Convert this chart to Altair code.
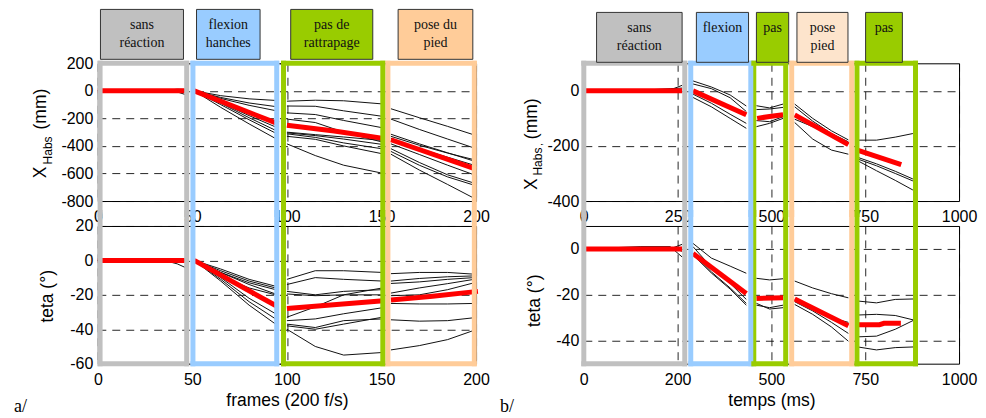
import altair as alt
import pandas as pd

# ---------------- panel a/ : X_Habs (mm) vs frames ----------------
AX_P1_X = [0, 20, 35, 42, 47]
AX_P1_TRIALS = [[0, 0, 2, 12, 10], [0, 0, 0, -8, -30], [0, 1, 3, 2, 0]]
AX_P1_MEAN_X = [0, 46]
AX_P1_MEAN = [0, 0]

AX_P2_X = [51, 65, 80, 94.5]
AX_P2_TRIALS = [
    [0, -35, -58, -70], [0, -48, -88, -115], [0, -55, -105, -145],
    [0, -75, -165, -245], [0, -85, -180, -265], [0, -90, -195, -290],
    [0, -100, -210, -310], [0, -120, -240, -350],
]
AX_P2_MEAN_X = [51, 95.5]
AX_P2_MEAN = [0, -240]

AX_P3_X = [100, 115, 130, 150.5]
AX_P3_TRIALS = [
    [-75, -68, -72, -95], [-110, -112, -145, -185], [-160, -172, -215, -268],
    [-205, -230, -300, -372], [-300, -318, -335, -360], [-305, -325, -350, -389],
    [-312, -338, -378, -421], [-330, -352, -400, -457], [-385, -470, -540, -598],
]
AX_P3_MEAN_X = [100, 125, 151]
AX_P3_MEAN = [-250, -292, -345]

AX_P4_X = [155, 170, 185, 199]
AX_P4_TRIALS = [
    [-130, -195, -258, -320], [-205, -280, -350, -415], [-315, -385, -450, -510],
    [-330, -395, -452, -500], [-345, -420, -482, -540], [-385, -462, -540, -610],
    [-420, -520, -610, -670], [-440, -540, -625, -685], [-460, -575, -680, -780],
]
AX_P4_MEAN_X = [155, 200]
AX_P4_MEAN = [-355, -568]

# ---------------- panel a/ : teta vs frames ----------------
AT_P1_X = [0, 20, 35, 42, 47]
AT_P1_TRIALS = [[0, 0, 0.5, 1, 0.5], [0, 0, 0, -2, -4.5], [0, 0, 0.3, 0, 0]]
AT_P1_MEAN_X = [0, 46]
AT_P1_MEAN = [0, 0]

AT_P2_X = [51, 65, 80, 94]
AT_P2_TRIALS = [
    [0, -5, -11, -15], [0, -6, -12, -16], [0, -7, -13, -17], [0, -7, -14, -19.5],
    [0, -9, -16, -20], [0, -10, -22, -31], [0, -11, -24, -34], [0, -12, -26, -37],
]
AT_P2_MEAN_X = [51, 94.5]
AT_P2_MEAN = [0, -26.5]

AT_P3_X = [100, 115, 130, 150.5]
AT_P3_TRIALS = [
    [-11, -6, -6, -7], [-14, -10, -11, -12], [-18, -20, -18, -17],
    [-19.5, -20.5, -20, -20], [-33, -27, -20, -16], [-35, -34, -31, -27.5],
    [-37, -39, -35, -34], [-38, -40, -37, -33], [-40, -50, -55, -53.5],
]
AT_P3_MEAN_X = [100, 151]
AT_P3_MEAN = [-28, -23.5]

AT_P4_X = [155, 170, 185, 199]
AT_P4_TRIALS = [
    [-7.7, -7, -7, -8], [-12, -10.5, -9.5, -9], [-13.4, -12.5, -11, -10],
    [-19, -16, -13.5, -11], [-20.5, -20, -17, -13], [-25, -25.3, -25.3, -25],
    [-34.5, -35.3, -35, -33.3], [-52, -49.5, -46, -40.6],
]
AT_P4_MEAN_X = [155, 177, 201]
AT_P4_MEAN = [-23, -20.8, -18]

# ---------------- panel b/ : X_Habs (mm) vs temps (ms) ----------------
BX_P1_X = [0, 150, 230, 262]
BX_P1_TRIALS = [[0, 2, 8, 10], [0, 0, 3, 20], [0, 0, 0, -5]]
BX_P1_MEAN_X = [0, 262]
BX_P1_MEAN = [0, 0]

BX_P2_X = [291, 340, 390, 433]
BX_P2_TRIALS = [[36, 14, -15, -55], [25, 8, -25, -75], [-12, -45, -85, -118], [-24, -58, -100, -136]]
BX_P2_MEAN_X = [291, 433]
BX_P2_MEAN = [0, -87]

BX_P3_X = [460, 495, 531]
BX_P3_TRIALS = [[-54, -62, -48], [-68, -66, -60], [-108, -112, -94], [-130, -118, -100]]
BX_P3_MEAN_X = [462, 495, 531]
BX_P3_MEAN = [-100, -93, -87]

BX_P4_X = [562, 610, 660, 705]
BX_P4_TRIALS = [[-48, -100, -145, -178], [-58, -110, -155, -185], [-103, -130, -160, -190], [-115, -175, -215, -230]]
BX_P4_MEAN_X = [562, 705]
BX_P4_MEAN = [-87, -195]

BX_P5_X = [729, 780, 830, 877]
BX_P5_TRIALS = [[-179, -179, -168, -155], [-241, -265, -292, -320], [-247, -272, -300, -327], [-253, -290, -325, -360]]
BX_P5_MEAN_X = [729, 846]
BX_P5_MEAN = [-215, -268]

# ---------------- panel b/ : teta vs temps (ms) ----------------
BT_P1_X = [0, 150, 230, 262]
BT_P1_TRIALS = [[0, 1, 1, -3.5], [0, 0, 0, 2], [0, 0, 0.5, -1]]
BT_P1_MEAN_X = [0, 262]
BT_P1_MEAN = [0, 0]

BT_P2_X = [291, 340, 390, 433]
BT_P2_TRIALS = [[2.4, -4, -7.5, -10.6], [1, -8, -15, -22], [-2, -10, -17, -23.7], [-2.6, -10.5, -17.5, -24.5]]
BT_P2_MEAN_X = [291, 433]
BT_P2_MEAN = [-2, -19.4]

BT_P3_X = [460, 495, 531]
BT_P3_TRIALS = [[-12.8, -13.5, -13], [-24.5, -25.6, -24.5], [-23.7, -26.2, -25.6]]
BT_P3_MEAN_X = [460, 531]
BT_P3_MEAN = [-21.6, -21.3]

BT_P4_X = [562, 610, 660, 705]
BT_P4_TRIALS = [[-14, -17, -19.5, -21.3], [-22, -26, -30, -32], [-23, -27, -32, -36.8], [-24.2, -28.5, -34, -40.2]]
BT_P4_MEAN_X = [562, 705]
BT_P4_MEAN = [-21.8, -33.5]

BT_P5_X = [730, 780, 830, 880]
BT_P5_TRIALS = [[-22.7, -23.5, -22, -21.8], [-28.8, -28.5, -29, -31], [-38.3, -38, -35, -31], [-42.7, -44, -43, -42.7]]
BT_P5_MEAN_X = [730, 788, 800, 845]
BT_P5_MEAN = [-33, -33, -32.4, -32.4]

# ---------------- phases (frames) and labels ----------------
A_PHASE_START = [1.2, 50.3, 98.2, 153.4]
A_PHASE_END = [47, 94.6, 150.7, 199.1]
A_PHASE_COLOR = ["#c0c0c0", "#99ccff", "#99cc00", "#ffcc99"]
A_BOX_START = [1.4, 52.2, 102, 158.8]
A_BOX_END = [45.3, 85.8, 145.4, 198.3]
A_BOX_FILL = ["#c0c0c0", "#99ccff", "#99cc00", "#ffcc99"]
A_BOX_LABEL = ["sans\nréaction", "flexion\nhanches", "pas de\nrattrapage", "pose du\npied"]

B_PHASE_START = [0, 285, 453, 554, 728]
B_PHASE_END = [269, 445, 538, 714, 884]
B_PHASE_COLOR = ["#c0c0c0", "#99ccff", "#99cc00", "#ffcc99", "#99cc00"]
B_BOX_START = [34, 300, 460, 568, 751]
B_BOX_END = [262, 439, 546, 704, 849]
B_BOX_FILL = ["#c0c0c0", "#99ccff", "#99cc00", "#fde4cc", "#99cc00"]
B_BOX_LABEL = ["sans\nréaction", "flexion", "pas", "pose\npied", "pas"]

A_XTICKS = [0, 50, 100, 150, 200]
B_XTICKS = [0, 250, 500, 750, 1000]

SANS = "Liberation Sans"
SERIF = "Liberation Serif"
DASH = [8, 6]


def rows(phases):
    tr, mn = [], []
    for p, (xs, trials, mxs, mys) in enumerate(phases):
        for t, ys in enumerate(trials):
            tr += [{"x": a, "y": b, "seg": f"{p}-{t}"} for a, b in zip(xs, ys)]
        mn += [{"x": a, "y": b, "seg": str(p)} for a, b in zip(mxs, mys)]
    return pd.DataFrame(tr), pd.DataFrame(mn)


def panel(phases, xdom, xticks, ydom, yticks, w, h, part, frames, gap,
          xlabel_expr="'' + datum.value", xtitle=None, boxes=None, box_y=(-54, -4),
          text_y=-44, texts=()):
    tr, mn = rows(phases)
    xsc = alt.Scale(domain=xdom, nice=False, zero=False)
    ysc = alt.Scale(domain=ydom, nice=False, zero=False)
    common = dict(grid=True, gridColor="black", gridDash=DASH, gridWidth=1, gridOpacity=0.85,
                  ticks=False, domain=False, labelFont=SANS, labelFontSize=16, labelColor="black",
                  labelFlush=False, labelOverlap=False)
    xaxis = alt.Axis(values=xticks, labelPadding=8, labelExpr=xlabel_expr, title=xtitle,
                     titleFont=SANS, titleFontSize=17.5, titleFontWeight="normal",
                     titleColor="black", titlePadding=4, **common)
    yaxis = alt.Axis(values=yticks, labelPadding=5, labelExpr="'' + datum.value", title=None, **common)

    def X(f):
        return alt.X(f, scale=xsc, axis=xaxis)

    Y = alt.Y("y:Q", scale=ysc, axis=yaxis)
    layers = [
        alt.Chart(tr).mark_line(color="#111111", strokeWidth=1).encode(x=X("x:Q"), y=Y, detail="seg:N"),
        alt.Chart(mn).mark_line(color="#ff0000", strokeWidth=5).encode(x=X("x:Q"), y=Y, detail="seg:N"),
    ]
    st, en, col = frames
    edges = pd.DataFrame({"x": list(st) + list(en), "c": list(col) * 2})
    spans = pd.DataFrame({"x": st, "x2": en, "c": col})
    if part == "top":
        vy0, vy1, hy = 0, h + gap, 0
    else:
        vy0, vy1, hy = -gap, h, h
    layers.append(alt.Chart(edges).mark_rule(strokeWidth=5, strokeCap="square").encode(
        x=X("x:Q"), y=alt.value(vy0), y2=alt.value(vy1), color=alt.Color("c:N", scale=None)))
    layers.append(alt.Chart(spans).mark_rule(strokeWidth=5, strokeCap="square").encode(
        x=X("x:Q"), x2="x2:Q", y=alt.value(hy), color=alt.Color("c:N", scale=None)))
    if boxes is not None:
        bs, be, bf, bl = boxes
        bdf = pd.DataFrame({"x": bs, "x2": be, "fill": bf, "label": bl})
        layers.append(alt.Chart(bdf).mark_rect(stroke="#333333", strokeWidth=1).encode(
            x=X("x:Q"), x2="x2:Q", y=alt.value(box_y[0]), y2=alt.value(box_y[1]),
            fill=alt.Color("fill:N", scale=None)))
        layers.append(alt.Chart(bdf).transform_calculate(xm="(datum.x + datum.x2) / 2").mark_text(
            font=SERIF, fontSize=14, fontWeight="normal", lineBreak="\n", lineHeight=18,
            baseline="top", color="#111111"
        ).encode(x=X("xm:Q"), y=alt.value(text_y), text="label:N"))
    for (t, tx, ty, size, font, angle, align) in texts:
        layers.append(alt.Chart(pd.DataFrame({"t": [t]})).mark_text(
            font=font, fontSize=size, fontWeight="normal", angle=angle, align=align,
            baseline="alphabetic", color="black"
        ).encode(x=alt.value(tx), y=alt.value(ty), text="t:N"))
    return alt.layer(*layers).properties(width=w, height=h)


AW, BW = 379, 376
HT, HB = 138, 138
SP = 25
GAP = SP / 2 + 1

a_top = panel(
    [(AX_P1_X, AX_P1_TRIALS, AX_P1_MEAN_X, AX_P1_MEAN),
     (AX_P2_X, AX_P2_TRIALS, AX_P2_MEAN_X, AX_P2_MEAN),
     (AX_P3_X, AX_P3_TRIALS, AX_P3_MEAN_X, AX_P3_MEAN),
     (AX_P4_X, AX_P4_TRIALS, AX_P4_MEAN_X, AX_P4_MEAN)],
    [0, 200], A_XTICKS, [-800, 200], [200, 0, -200, -400, -600, -800], AW, HT, "top",
    (A_PHASE_START, A_PHASE_END, A_PHASE_COLOR), GAP,
    boxes=(A_BOX_START, A_BOX_END, A_BOX_FILL, A_BOX_LABEL), box_y=(-54, -4), text_y=-45,
    texts=[("X", -51.7, 115.3, 17.5, SANS, 270, "left"),
           ("Habs", -46, 101.3, 12, SANS, 270, "left"),
           ("(mm)", -51.7, 66.3, 17.5, SANS, 270, "left")])

a_bot = panel(
    [(AT_P1_X, AT_P1_TRIALS, AT_P1_MEAN_X, AT_P1_MEAN),
     (AT_P2_X, AT_P2_TRIALS, AT_P2_MEAN_X, AT_P2_MEAN),
     (AT_P3_X, AT_P3_TRIALS, AT_P3_MEAN_X, AT_P3_MEAN),
     (AT_P4_X, AT_P4_TRIALS, AT_P4_MEAN_X, AT_P4_MEAN)],
    [0, 200], A_XTICKS, [-60, 20], [20, 0, -20, -40, -60], AW, HB, "bottom",
    (A_PHASE_START, A_PHASE_END, A_PHASE_COLOR), GAP, xtitle="frames (200 f/s)",
    texts=[("teta (°)", -45, 70.5, 17.5, SANS, 270, "center"),
           ("a/", -84, HB + 48, 18, SERIF, 0, "left")])

b_top = panel(
    [(BX_P1_X, BX_P1_TRIALS, BX_P1_MEAN_X, BX_P1_MEAN),
     (BX_P2_X, BX_P2_TRIALS, BX_P2_MEAN_X, BX_P2_MEAN),
     (BX_P3_X, BX_P3_TRIALS, BX_P3_MEAN_X, BX_P3_MEAN),
     (BX_P4_X, BX_P4_TRIALS, BX_P4_MEAN_X, BX_P4_MEAN),
     (BX_P5_X, BX_P5_TRIALS, BX_P5_MEAN_X, BX_P5_MEAN)],
    [0, 1000], B_XTICKS, [-400, 100], [0, -200, -400], BW, HT, "top",
    (B_PHASE_START, B_PHASE_END, B_PHASE_COLOR), GAP,
    boxes=(B_BOX_START, B_BOX_END, B_BOX_FILL, B_BOX_LABEL), box_y=(-51, -1), text_y=-42,
    texts=[("X", -47, 127, 17.5, SANS, 270, "left"),
           ("Habs", -41.5, 112.5, 12, SANS, 270, "left"),
           (",", -41.5, 82.5, 9, SANS, 270, "left"),
           ("(mm)", -47, 76, 17.5, SANS, 270, "left")])

b_bot = panel(
    [(BT_P1_X, BT_P1_TRIALS, BT_P1_MEAN_X, BT_P1_MEAN),
     (BT_P2_X, BT_P2_TRIALS, BT_P2_MEAN_X, BT_P2_MEAN),
     (BT_P3_X, BT_P3_TRIALS, BT_P3_MEAN_X, BT_P3_MEAN),
     (BT_P4_X, BT_P4_TRIALS, BT_P4_MEAN_X, BT_P4_MEAN),
     (BT_P5_X, BT_P5_TRIALS, BT_P5_MEAN_X, BT_P5_MEAN)],
    [0, 1000], B_XTICKS, [-50, 10], [0, -20, -40], BW, HB, "bottom",
    (B_PHASE_START, B_PHASE_END, B_PHASE_COLOR), GAP, xtitle="temps (ms)",
    xlabel_expr="datum.value == 250 ? '200' : '' + datum.value",
    texts=[("teta (°)", -44, 75, 17.5, SANS, 270, "center"),
           ("b/", -84, HB + 48, 18, SERIF, 0, "left")])

chart = alt.concat(
    a_top, b_top, a_bot, b_bot, columns=2, bounds="flush",
    spacing={"row": SP, "column": 108},
).properties(
    padding={"left": 5, "top": 0, "right": 0, "bottom": 0}, background="white"
).configure_view(
    stroke="black", strokeWidth=1
).configure_axis(
    titleFontWeight="normal", titleFont=SANS, titleFontSize=17.5, titleColor="black"
)

chart.save("out.html", embed_options={"renderer": "svg", "actions": False})
